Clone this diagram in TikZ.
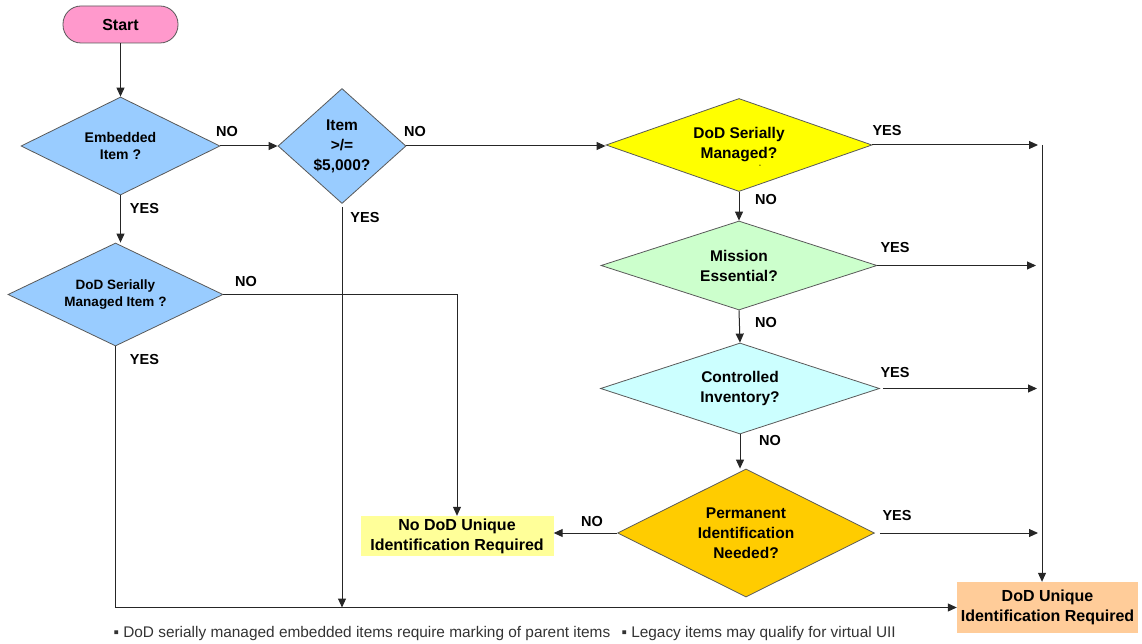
\documentclass[tikz,border=0pt]{standalone}
\usepackage{fontspec}
\setmainfont{Liberation Sans}
\usetikzlibrary{shapes.geometric,arrows.meta}
\definecolor{startpink}{HTML}{FF99CC}
\definecolor{embblue}{HTML}{99CCFF}
\definecolor{serialyellow}{HTML}{FFFF00}
\definecolor{missiongreen}{HTML}{CCFFCC}
\definecolor{invcyan}{HTML}{CCFFFF}
\definecolor{permgold}{HTML}{FFCC00}
\definecolor{noyellow}{HTML}{FFFF99}
\definecolor{uidpeach}{HTML}{FFCC99}
\tikzset{
	decision/.style={diamond, draw=black!65, line width=.8pt, inner sep=0pt, aspect=2, align=center, font=\bfseries\fontsize{15.5}{20}\selectfont},
	outcome/.style={rectangle, inner sep=0pt, align=center, font=\bfseries\fontsize{16}{20}\selectfont},
	answer/.style={font=\bfseries\fontsize{14.5}{16}\selectfont},
	flow/.style={draw=black!85, line width=1pt, -{Triangle[length=9pt,width=8pt]}},
	note/.style={anchor=west, text=black!80, font=\fontsize{15.4}{18}\selectfont}
}
\begin{document}
\begin{tikzpicture}[x=1pt,y=-1pt]
	\useasboundingbox (0,0) rectangle (1142,644);
	\node[draw=black!65, line width=.8pt, fill=startpink, rounded corners=18pt, minimum width=115pt, minimum height=37pt, font=\bfseries\fontsize{16}{18}\selectfont] (start) at (120.5,24.5) {Start};
	\node[decision, fill=embblue, minimum width=199pt, minimum height=98pt, font=\bfseries\fontsize{14}{17.5}\selectfont] (emb) at (120.5,146) {Embedded\\Item ?};
	\node[decision, fill=embblue, minimum width=128pt, minimum height=115pt, aspect=1.1] (cost) at (342,146) {Item\\>/=\\\$5,000?};
	\node[decision, fill=embblue, minimum width=215pt, minimum height=103pt, font=\bfseries\fontsize{13.5}{17.5}\selectfont] (smi) at (115.5,294.5) {DoD Serially\\Managed Item ?};
	\node[decision, fill=serialyellow, minimum width=266pt, minimum height=93pt, aspect=2.8] (dsm) at (739,145) {DoD Serially\\Managed?};
	\node[inner sep=0pt, font=\fontsize{7}{7}\selectfont] (tick) at (760,166) {-};
	\node[decision, fill=missiongreen, minimum width=276pt, minimum height=89pt, aspect=3] (mis) at (739,265.5) {Mission\\Essential?};
	\node[decision, fill=invcyan, minimum width=279pt, minimum height=91pt, aspect=3] (inv) at (740,388.5) {Controlled\\Inventory?};
	\node[decision, fill=permgold, minimum width=257pt, minimum height=128pt] (perm) at (746,533) {Permanent\\Identification\\Needed?};
	\node[outcome, fill=noyellow, minimum width=193pt, minimum height=40pt] (nouid) at (457,536) {No DoD Unique\\Identification Required};
	\node[outcome, fill=uidpeach, minimum width=181pt, minimum height=51pt] (uid) at (1047.5,607.5) {DoD Unique\\Identification Required};
	\coordinate (bus) at (1042,145);
	\draw[flow] (start) -- (emb);
	\draw[flow] (emb.south) -- (emb.south |- smi.north);
	\draw[flow] (emb.east) -- (cost.west);
	\draw[flow] (cost.east) -- (cost.east -| dsm.west);
	\draw[flow, shorten <=3pt] (cost.south) -- (cost.south |- uid.west);
	\draw[flow] (smi.east) -| (nouid.north);
	\draw[flow] (smi.south) |- (uid.west);
	\draw[flow] (dsm.south) -- (mis.north);
	\draw[flow] (mis.south) -- (inv.north);
	\draw[flow] (inv.south) -- (inv.south |- perm.north);
	\draw[flow] (perm.west) -- (perm.west -| nouid.east);
	\draw[flow, shorten >=4pt] (dsm.east) -- (dsm.east -| bus);
	\draw[flow, shorten >=6pt] (mis.east) -- (mis.east -| bus);
	\draw[flow, shorten <=3pt, shorten >=5pt] (inv.east) -- (inv.east -| bus);
	\draw[flow, shorten <=5pt, shorten >=4pt] (perm.east) -- (perm.east -| bus);
	\draw[flow] (bus) -- (bus |- uid.north);
	\node[answer] (embno) at (227,131.5) {NO};
	\node[answer] (embyes) at (144.5,208.5) {YES};
	\node[answer] (costno) at (415,131.5) {NO};
	\node[answer] (costyes) at (365,218) {YES};
	\node[answer] (smino) at (246,282) {NO};
	\node[answer] (smiyes) at (144.5,360) {YES};
	\node[answer] (dsmyes) at (887,131) {YES};
	\node[answer] (dsmno) at (766,199.5) {NO};
	\node[answer] (misyes) at (895,248) {YES};
	\node[answer] (misno) at (766,323) {NO};
	\node[answer] (invyes) at (895,373) {YES};
	\node[answer] (invno) at (770,441) {NO};
	\node[answer] (permyes) at (897,516) {YES};
	\node[answer] (permno) at (592,522) {NO};
	\node[note] (fnembedded) at (110,634) {▪ DoD serially managed embedded items require marking of parent items};
	\node[note] (fnlegacy) at (618,634) {▪ Legacy items may qualify for virtual UII};
\end{tikzpicture}
\end{document}
